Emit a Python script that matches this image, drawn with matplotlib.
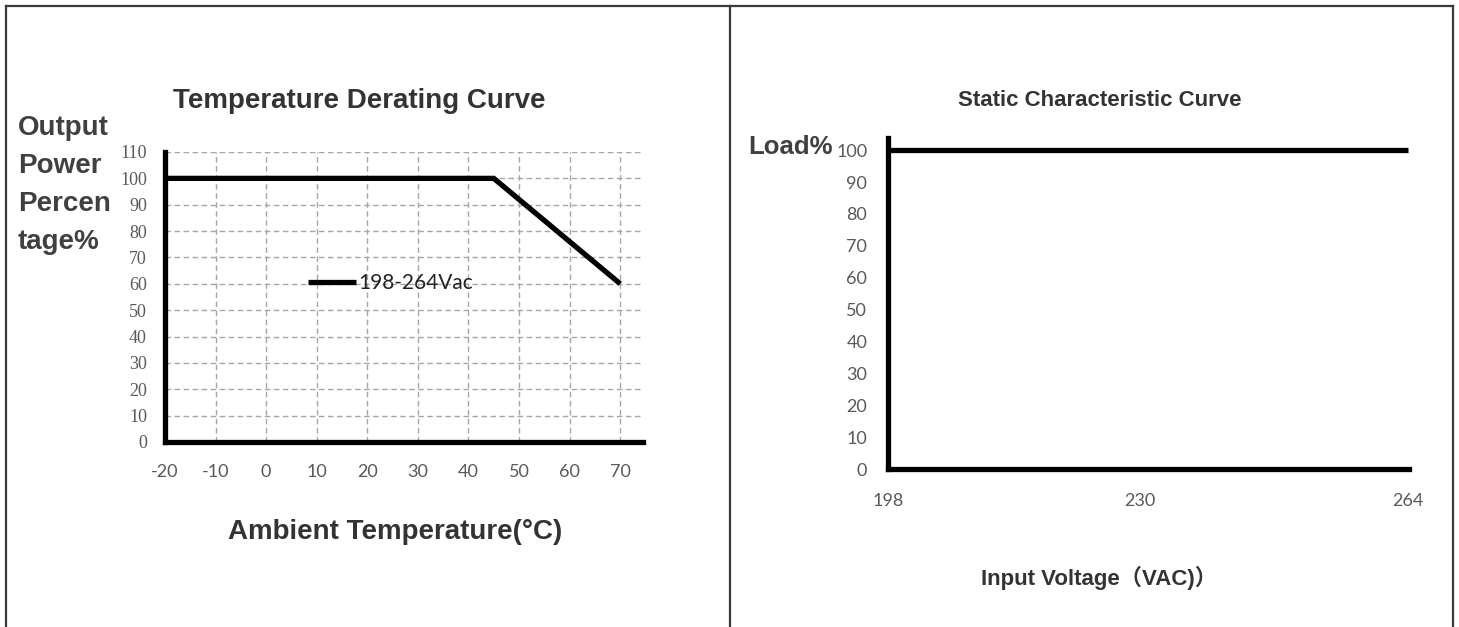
import matplotlib
matplotlib.use("Agg")
import matplotlib.pyplot as plt
from matplotlib.lines import Line2D

plt.rcParams["axes.unicode_minus"] = False

# ---- data ----
temp_x = [-20, 45, 70]
temp_y = [100, 100, 60]
temp_xticks = [-20, -10, 0, 10, 20, 30, 40, 50, 60, 70]
temp_yticks = [0, 10, 20, 30, 40, 50, 60, 70, 80, 90, 100, 110]
series_label = "198-264Vac"

volt_x = [198, 264]
volt_y = [100, 100]
volt_xticks = [198, 230, 264]
volt_yticks = [0, 10, 20, 30, 40, 50, 60, 70, 80, 90, 100]

W, H = 1459, 627
fig = plt.figure(figsize=(W / 100, H / 100), dpi=100)
fig.patch.set_facecolor("white")

def fx(px):
    return px / W

def fy(py):
    return 1 - py / H

# panel borders
border_col = "#3a3a3a"
fig.add_artist(Line2D([fx(6), fx(1453)], [fy(6), fy(6)], color=border_col, lw=1.6, transform=fig.transFigure))
fig.add_artist(Line2D([fx(6), fx(6)], [fy(6), fy(627)], color=border_col, lw=1.6, transform=fig.transFigure))
fig.add_artist(Line2D([fx(730), fx(730)], [fy(6), fy(627)], color=border_col, lw=1.6, transform=fig.transFigure))
fig.add_artist(Line2D([fx(1453), fx(1453)], [fy(6), fy(627)], color=border_col, lw=1.6, transform=fig.transFigure))

title_col = "#333333"
tick_col = "#595959"
bold_font = ["Liberation Sans", "Noto Sans CJK SC"]
tick_font = "Lato"
TS = 20

# ---- left chart ----
axL = fig.add_axes([fx(165), fy(442), fx(643 - 165), (442 - 152) / H])
axL.plot(temp_x, temp_y, color="black", lw=3.8, solid_capstyle="butt", solid_joinstyle="miter", label=series_label, zorder=3)
axL.set_xlim(-20, 74.5)
axL.set_ylim(0, 110)
axL.set_xticks(temp_xticks)
axL.set_yticks(temp_yticks)
for v in temp_xticks[1:]:
    axL.axvline(v, color="#a6a6a6", lw=1.0, ls=(0, (4, 2.5)), zorder=1)
for v in temp_yticks[1:]:
    axL.axhline(v, color="#a6a6a6", lw=1.0, ls=(0, (4, 2.5)), zorder=1)
for s in ["top", "right"]:
    axL.spines[s].set_visible(False)
for s in ["left", "bottom"]:
    axL.spines[s].set_linewidth(3.8)
    axL.spines[s].set_color("black")
    axL.spines[s].set_zorder(4)
axL.tick_params(axis="both", length=0, colors=tick_col)
axL.tick_params(axis="y", pad=13, labelsize=13)
axL.tick_params(axis="x", pad=16, labelsize=13)
for lab in axL.get_yticklabels():
    lab.set_fontfamily("Liberation Serif")
for lab in axL.get_xticklabels():
    lab.set_fontfamily(tick_font)
axL.patch.set_alpha(0)

leg = axL.legend(loc="center left", bbox_to_anchor=(0.299, 0.548), frameon=False,
                 borderpad=0, borderaxespad=0, handlelength=2.3, handletextpad=0.1,
                 prop={"family": tick_font, "size": 15})
for t in leg.get_texts():
    t.set_color("#222222")

fig.text(fx(359), fy(101), "Temperature Derating Curve", ha="center", va="center",
         fontsize=TS, fontweight="bold", color=title_col, family=bold_font)
for i, s in enumerate(["Output", "Power", "Percen", "tage%"]):
    fig.text(fx(18), fy(128 + 38 * i), s, ha="left", va="center",
             fontsize=TS, fontweight="bold", color="#404040", family=bold_font)
fig.text(fx(395), fy(532), "Ambient Temperature(°C)", ha="center", va="center",
         fontsize=TS, fontweight="bold", color=title_col, family=bold_font)

# ---- right chart ----
axR = fig.add_axes([fx(888), fy(469), fx(1409 - 888), (469 - 138) / H])
axR.plot(volt_x, volt_y, color="black", lw=3.8, solid_capstyle="butt", zorder=3)
axR.set_xlim(198, 264.1)
axR.set_ylim(0, 103.8)
axR.set_xticks(volt_xticks)
axR.set_yticks(volt_yticks)
for s in ["top", "right"]:
    axR.spines[s].set_visible(False)
for s in ["left", "bottom"]:
    axR.spines[s].set_linewidth(3.8)
    axR.spines[s].set_color("black")
axR.tick_params(axis="both", length=0, colors=tick_col, labelsize=13)
axR.tick_params(axis="y", pad=15)
axR.tick_params(axis="x", pad=17)
for lab in axR.get_yticklabels() + axR.get_xticklabels():
    lab.set_fontfamily(tick_font)
axR.patch.set_alpha(0)

fig.text(fx(1100), fy(101), "Static Characteristic Curve", ha="center", va="center",
         fontsize=16, fontweight="bold", color=title_col, family=bold_font)
fig.text(fx(748), fy(147), "Load%", ha="left", va="center",
         fontsize=18.5, fontweight="bold", color="#404040", family=bold_font)
fig.text(fx(1099), fy(578), "Input Voltage（VAC)）", ha="center", va="center",
         fontsize=16, fontweight="bold", color=title_col, family=bold_font)

fig.savefig("out.png", dpi=100, facecolor="white")
